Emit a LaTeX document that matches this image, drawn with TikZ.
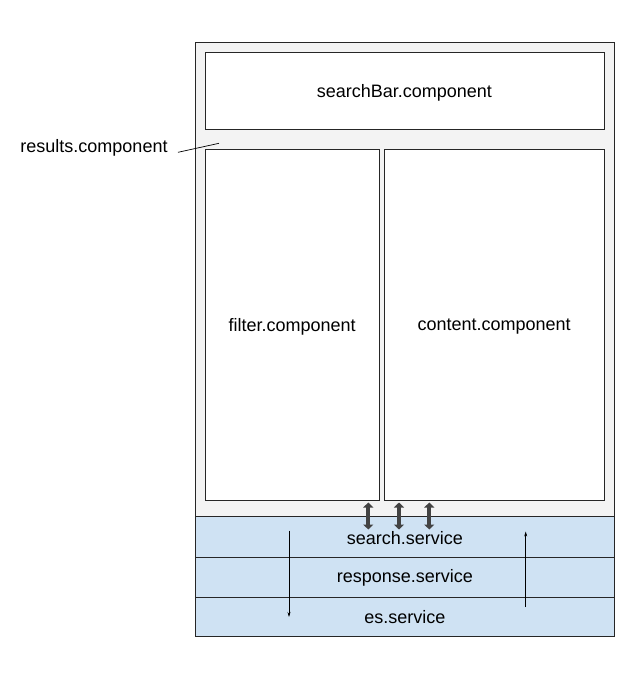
\documentclass[tikz,border=0pt]{standalone}
\usepackage{fontspec}
\setmainfont{Liberation Sans}
\usetikzlibrary{arrows.meta}
\definecolor{outerfill}{HTML}{F3F3F3}
\definecolor{bluefill}{HTML}{CFE2F3}
\definecolor{arrowgray}{HTML}{434343}
\begin{document}
\begin{tikzpicture}[x=1pt,y=-1pt,
  every node/.style={font=\fontsize{18}{21}\selectfont},
  box/.style={draw=black!85, line width=0.8pt, inner sep=0pt, anchor=north west},
  outerbox/.style={box, fill=outerfill},
  compbox/.style={box, fill=white},
  servbox/.style={box, fill=bluefill},
  thinarrow/.style={line width=0.6pt, -{Stealth[length=5pt,width=3pt]}},
  thickarrow/.style={line width=3.8pt, draw=arrowgray, {Triangle[length=5pt,width=10pt]}-{Triangle[length=5pt,width=10pt]}}
]
\useasboundingbox (0,0) rectangle (643,690);
\node[outerbox, minimum width=419pt, minimum height=593pt] (results) at (195,42) {};
\node[compbox, minimum width=399pt, minimum height=76pt] (searchbar) at (204.5,52.5) {};
\node at ([yshift=-2pt]searchbar.center) {searchBar.component};
\node[compbox, minimum width=174.5pt, minimum height=351pt] (filter) at (204.5,149) {};
\node at ([yshift=-2pt]filter.center) {filter.component};
\node[compbox, minimum width=219.5pt, minimum height=351pt] (content) at (384,149) {};
\node at ([yshift=-2pt]content.center) {content.component};
\node[servbox, minimum width=419pt, minimum height=40.5pt] (search) at (195,516) {};
\node[servbox, minimum width=419pt, minimum height=40pt] (response) at (195,556.5) {};
\node[servbox, minimum width=419pt, minimum height=39pt] (es) at (195,596.5) {};
\node at ([yshift=-1pt]search.center) {search.service};
\node at ([yshift=-1pt]response.center) {response.service};
\node at ([yshift=-1pt]es.center) {es.service};
\node (label) at (94,148) {results.component};
\coordinate (lblend) at (178,152.3);
\coordinate (lblpoint) at (219,143.3);
\draw[line width=0.7pt] (lblend) -- (lblpoint);
% thin arrows
\coordinate (dtop) at (289,530.5);
\coordinate (dbot) at (289,617);
\draw[thinarrow] (dtop) -- (dbot);
\coordinate (ubot) at (525.7,607);
\coordinate (utop) at (525.7,531.5);
\draw[thinarrow] (ubot) -- (utop);
% thick double arrows
\foreach \xx/\nm in {368.3/a,399/b,429.3/c}{
  \coordinate (t\nm) at (\xx,502.5);
  \coordinate (b\nm) at (\xx,529.5);
  \draw[thickarrow] (t\nm) -- (b\nm);
}
\end{tikzpicture}
\end{document}
